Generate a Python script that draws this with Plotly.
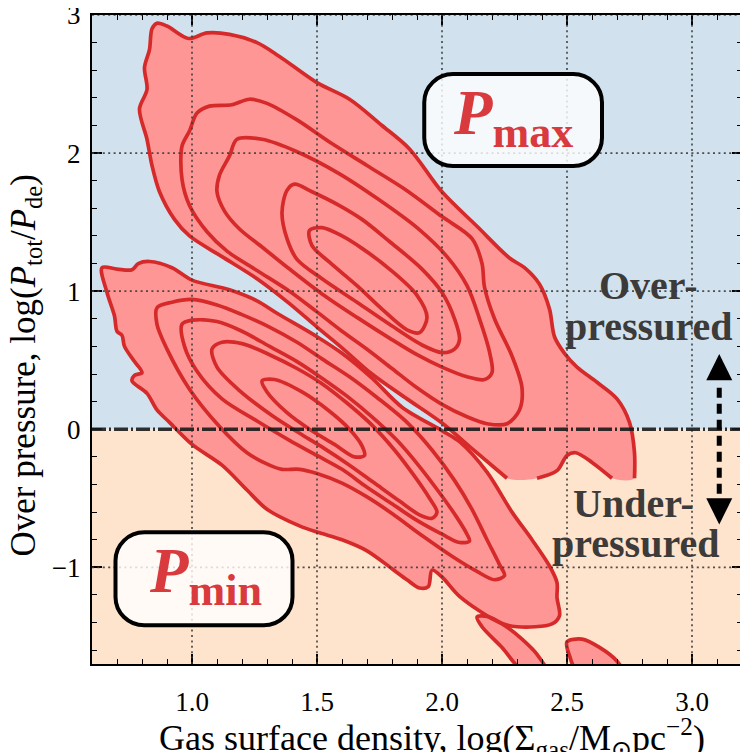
import plotly.graph_objects as go

# ---------------- data ----------------
X_TICKS = [1.0, 1.5, 2.0, 2.5, 3.0]
X_TICK_TEXT = ["1.0", "1.5", "2.0", "2.5", "3.0"]
Y_TICKS = [-1, 0, 1, 2, 3]
Y_TICK_TEXT = ["\u22121", "0", "1", "2", "3"]

# P_max distribution: outer level (closed, flat cut at the bottom)
PMAX_OUTER_EDGE = [(2.77, -0.355), (2.77, -0.17), (2.75, 0.05), (2.70, 0.22), (2.62, 0.34),
                   (2.54, 0.45), (2.49, 0.55), (2.45, 0.67), (2.43, 0.87), (2.39, 1.05),
                   (2.33, 1.17), (2.27, 1.24), (2.14, 1.47), (2.00, 1.72), (1.87, 2.03),
                   (1.76, 2.20), (1.63, 2.39), (1.50, 2.51), (1.35, 2.70), (1.26, 2.80),
                   (1.15, 2.86), (1.06, 2.87), (0.985, 2.83), (0.90, 2.92), (0.86, 2.94),
                   (0.84, 2.90), (0.83, 2.75), (0.81, 2.62), (0.82, 2.46), (0.79, 2.32),
                   (0.82, 2.10), (0.84, 1.91), (0.87, 1.72), (0.93, 1.52), (0.99, 1.40),
                   (1.12, 1.25), (1.26, 1.09), (1.39, 0.91), (1.50, 0.74), (1.60, 0.59),
                   (1.72, 0.40), (1.86, 0.22), (2.00, 0.045), (2.12, -0.14), (2.26, -0.355)]
PMAX_OUTER_NOTCH = [(2.38, -0.355), (2.46, -0.30), (2.50, -0.19), (2.535, -0.17),
                    (2.60, -0.24), (2.68, -0.355)]
PMAX_L2 = [(1.02, 2.29), (1.07, 2.34), (1.16, 2.35), (1.23, 2.39), (1.30, 2.36), (1.42, 2.24),
           (1.55, 2.08), (1.70, 1.91), (1.85, 1.74), (2.00, 1.54), (2.12, 1.38), (2.16, 1.20),
           (2.17, 1.03), (2.21, 0.80), (2.28, 0.53), (2.32, 0.30), (2.31, 0.14), (2.26, 0.04),
           (2.18, 0.04), (2.10, 0.09), (2.00, 0.18), (1.90, 0.30), (1.80, 0.44), (1.70, 0.58),
           (1.60, 0.71), (1.50, 0.85), (1.39, 1.00), (1.26, 1.15), (1.14, 1.29), (1.06, 1.43),
           (0.99, 1.62), (0.96, 1.81), (0.96, 2.05), (0.99, 2.16)]
PMAX_L3 = [(1.18, 2.10), (1.28, 2.10), (1.42, 2.01), (1.59, 1.85), (1.75, 1.66), (1.90, 1.46),
           (2.02, 1.25), (2.10, 1.04), (2.15, 0.80), (2.19, 0.56), (2.20, 0.41), (2.17, 0.36),
           (2.10, 0.38), (2.00, 0.45), (1.90, 0.54), (1.79, 0.66), (1.66, 0.81), (1.52, 0.98),
           (1.39, 1.16), (1.28, 1.32), (1.19, 1.45), (1.13, 1.58), (1.10, 1.72), (1.11, 1.84),
           (1.15, 1.98)]
PMAX_L4 = [(1.38, 1.73), (1.41, 1.775), (1.48, 1.72), (1.59, 1.62), (1.68, 1.52), (1.79, 1.36),
           (1.92, 1.16), (2.00, 0.99), (2.05, 0.80), (2.07, 0.65), (2.05, 0.58), (2.00, 0.555),
           (1.92, 0.61), (1.79, 0.76), (1.66, 0.92), (1.52, 1.09), (1.42, 1.23), (1.38, 1.38),
           (1.36, 1.57)]
PMAX_L5 = [(1.47, 1.44), (1.52, 1.46), (1.60, 1.40), (1.68, 1.31), (1.79, 1.16), (1.90, 0.97),
           (1.94, 0.81), (1.91, 0.70), (1.86, 0.72), (1.76, 0.87), (1.66, 1.04), (1.55, 1.21),
           (1.48, 1.33)]

# P_min distribution
PMIN_OUTER = [(0.64, 1.17), (0.70, 1.16), (0.76, 1.155), (0.785, 1.20), (0.83, 1.215),
              (0.92, 1.17), (1.00, 1.08), (1.15, 1.01), (1.26, 0.93), (1.34, 0.84),
              (1.50, 0.67), (1.60, 0.55), (1.72, 0.37), (1.84, 0.16), (2.00, -0.01),
              (2.07, -0.09), (2.18, -0.31), (2.28, -0.60), (2.36, -0.80), (2.43, -0.99),
              (2.46, -1.11), (2.46, -1.22), (2.47, -1.35), (2.44, -1.41), (2.30, -1.43),
              (2.23, -1.40), (2.07, -1.21), (2.00, -1.07), (1.96, -1.02), (1.945, -1.14),
              (1.91, -1.15), (1.86, -1.09), (1.80, -1.01), (1.70, -0.88), (1.60, -0.80),
              (1.51, -0.75), (1.43, -0.70), (1.30, -0.58), (1.22, -0.44), (1.12, -0.26),
              (1.00, -0.11), (0.91, 0.05), (0.86, 0.14), (0.82, 0.26), (0.76, 0.35),
              (0.77, 0.39), (0.80, 0.41), (0.77, 0.49), (0.73, 0.60), (0.72, 0.68),
              (0.70, 0.71), (0.69, 0.82), (0.66, 0.99)]
PMIN_L2 = [(0.86, 0.88), (0.92, 0.92), (1.00, 0.94), (1.10, 0.90), (1.20, 0.83), (1.31, 0.74),
           (1.42, 0.63), (1.52, 0.51), (1.63, 0.38), (1.74, 0.23), (1.86, 0.05), (1.96, -0.15),
           (2.05, -0.37), (2.12, -0.58), (2.18, -0.80), (2.23, -0.98), (2.25, -1.06),
           (2.21, -1.09), (2.14, -1.03), (2.04, -0.92), (1.92, -0.77), (1.80, -0.61),
           (1.70, -0.49), (1.60, -0.39), (1.50, -0.32), (1.43, -0.29), (1.36, -0.29),
           (1.31, -0.26), (1.22, -0.17), (1.11, 0.02), (0.99, 0.29), (0.90, 0.58), (0.86, 0.76)]
PMIN_L3 = [(0.96, 0.76), (1.00, 0.79), (1.10, 0.78), (1.20, 0.71), (1.31, 0.60), (1.42, 0.49),
           (1.52, 0.37), (1.62, 0.24), (1.72, 0.09), (1.82, -0.08), (1.91, -0.27),
           (1.99, -0.46), (2.06, -0.64), (2.10, -0.76), (2.11, -0.81), (2.07, -0.82),
           (2.00, -0.76), (1.90, -0.66), (1.80, -0.54), (1.70, -0.42), (1.60, -0.29),
           (1.50, -0.19), (1.39, -0.08), (1.26, 0.06), (1.12, 0.22), (1.02, 0.42), (0.97, 0.60)]
PMIN_L4 = [(1.08, 0.58), (1.12, 0.63), (1.20, 0.62), (1.31, 0.54), (1.42, 0.44), (1.52, 0.33),
           (1.62, 0.19), (1.72, 0.03), (1.81, -0.15), (1.89, -0.34), (1.95, -0.50),
           (1.98, -0.60), (1.96, -0.645), (1.91, -0.62), (1.83, -0.52), (1.73, -0.39),
           (1.63, -0.26), (1.53, -0.14), (1.44, -0.04), (1.32, 0.10), (1.19, 0.28), (1.10, 0.45)]
PMIN_L5 = [(1.28, 0.35), (1.33, 0.36), (1.44, 0.27), (1.55, 0.13), (1.63, 0.00), (1.68, -0.12),
           (1.69, -0.19), (1.65, -0.20), (1.57, -0.11), (1.47, 0.00), (1.38, 0.12), (1.30, 0.27)]
PMIN_ISLAND_A = [(2.14, -1.36), (2.18, -1.355), (2.25, -1.42), (2.32, -1.52), (2.38, -1.63),
                 (2.42, -1.76), (2.33, -1.76), (2.24, -1.58), (2.16, -1.43)]
PMIN_ISLAND_B = [(2.50, -1.54), (2.56, -1.52), (2.63, -1.58), (2.70, -1.68), (2.73, -1.78),
                 (2.55, -1.78), (2.51, -1.64)]

# ---------------- style ----------------
FILL = "#ff9696"
LINE = "#d62a2a"
LW = 3.7
BLUE = "#d1e2ee"
PEACH = "#fee3cd"
SERIF = "Liberation Serif"
XR = [0.6, 3.2]
YR = [-1.7, 3.0]

fig = go.Figure()


def xs(pts, close=False):
    v = [p[0] for p in pts]
    return v + [v[0]] if close else v


def ys(pts, close=False):
    v = [p[1] for p in pts]
    return v + [v[0]] if close else v


def add_fill(pts):
    fig.add_trace(go.Scatter(x=xs(pts, True), y=ys(pts, True), mode="lines", fill="toself",
                             fillcolor=FILL, line=dict(width=0, shape="spline", smoothing=0.9),
                             hoverinfo="skip", showlegend=False))


def add_line(pts, close=True):
    fig.add_trace(go.Scatter(x=xs(pts, close), y=ys(pts, close), mode="lines",
                             line=dict(color=LINE, width=LW, shape="spline", smoothing=0.9),
                             hoverinfo="skip", showlegend=False))


pmax_poly = PMAX_OUTER_EDGE + PMAX_OUTER_NOTCH
add_fill(pmax_poly)
add_fill(PMIN_OUTER)
add_fill(PMIN_ISLAND_A)
add_fill(PMIN_ISLAND_B)

add_line(PMAX_OUTER_EDGE, close=False)
add_line(PMAX_OUTER_NOTCH, close=False)
for loop in (PMAX_L2, PMAX_L3, PMAX_L4, PMAX_L5):
    add_line(loop)
for loop in (PMIN_OUTER, PMIN_L2, PMIN_L3, PMIN_L4, PMIN_L5, PMIN_ISLAND_A, PMIN_ISLAND_B):
    add_line(loop)

shapes = []
# background halves
shapes.append(dict(type="rect", xref="x domain", yref="y", x0=0, x1=1, y0=0, y1=YR[1],
                   fillcolor=BLUE, line=dict(width=0), layer="below"))
shapes.append(dict(type="rect", xref="x domain", yref="y", x0=0, x1=1, y0=YR[0], y1=0,
                   fillcolor=PEACH, line=dict(width=0), layer="below"))
# dotted grid on top of the contours
GRID = dict(color="rgba(60,60,60,0.9)", width=1.7, dash="2px,3.4px")
for xv in X_TICKS:
    shapes.append(dict(type="line", xref="x", yref="y domain", x0=xv, x1=xv, y0=0, y1=1,
                       line=GRID, layer="above"))
for yv in Y_TICKS:
    if yv != 0:
        shapes.append(dict(type="line", xref="x domain", yref="y", x0=0, x1=1, y0=yv, y1=yv,
                           line=GRID, layer="above"))
# zero line
shapes.append(dict(type="line", xref="x domain", yref="y", x0=0, x1=1, y0=0, y1=0,
                   line=dict(color="rgba(25,25,25,0.9)", width=3.4, dash="14px,3px,2px,3px"),
                   layer="above"))


def rounded_box(x0, x1, y0, y1, rx, ry):
    k = 0.5523
    p = (f"M {x0+rx},{y1} L {x1-rx},{y1} "
         f"C {x1-rx+k*rx},{y1} {x1},{y1-ry+k*ry} {x1},{y1-ry} "
         f"L {x1},{y0+ry} "
         f"C {x1},{y0+ry-k*ry} {x1-rx+k*rx},{y0} {x1-rx},{y0} "
         f"L {x0+rx},{y0} "
         f"C {x0+rx-k*rx},{y0} {x0},{y0+ry-k*ry} {x0},{y0+ry} "
         f"L {x0},{y1-ry} "
         f"C {x0},{y1-ry+k*ry} {x0+rx-k*rx},{y1} {x0+rx},{y1} Z")
    return dict(type="path", xref="x", yref="y", path=p, fillcolor="rgba(255,255,255,0.8)",
                line=dict(color="black", width=4), layer="above")


shapes.append(rounded_box(1.929, 2.640, 1.906, 2.572, 0.115, 0.205))
shapes.append(rounded_box(0.694, 1.402, -1.420, -0.746, 0.115, 0.205))

# double arrow (dashed stem + two heads)
AX = 3.109
shapes.append(dict(type="line", xref="x", yref="y", x0=AX, x1=AX, y0=0.30, y1=-0.50,
                   line=dict(color="black", width=5, dash="10px,6px"), layer="above"))
shapes.append(dict(type="path", xref="x", yref="y",
                   path=f"M {AX-0.052},{0.355} L {AX+0.052},{0.355} L {AX},{0.545} Z",
                   fillcolor="black", line=dict(width=0), layer="above"))
shapes.append(dict(type="path", xref="x", yref="y",
                   path=f"M {AX-0.052},{-0.50} L {AX+0.052},{-0.50} L {AX},{-0.69} Z",
                   fillcolor="black", line=dict(width=0), layer="above"))

TXT = dict(family=SERIF, size=40, color="#3d3a3a")
annotations = [
    dict(x=2.285, y=2.26, xref="x", yref="y", showarrow=False,
         text="<b><i>P</i></b><sub><b>max</b></sub>",
         font=dict(family=SERIF, size=63, color="#d93a3e")),
    dict(x=1.052, y=-1.06, xref="x", yref="y", showarrow=False,
         text="<b><i>P</i></b><sub><b>min</b></sub>",
         font=dict(family=SERIF, size=63, color="#d93a3e")),
    dict(x=2.824, y=1.04, xref="x", yref="y", showarrow=False, text="<b>Over-</b>", font=TXT),
    dict(x=2.824, y=0.745, xref="x", yref="y", showarrow=False, text="<b>pressured</b>", font=TXT),
    dict(x=2.765, y=-0.535, xref="x", yref="y", showarrow=False, text="<b>Under-</b>", font=TXT),
    dict(x=2.772, y=-0.83, xref="x", yref="y", showarrow=False, text="<b>pressured</b>", font=TXT),
    # axis titles
    dict(x=0.523, y=-0.114, xref="paper", yref="paper", showarrow=False, yanchor="middle",
         text="Gas surface density, log(\u03a3<sub>gas</sub>/M<sub>\u2299</sub>pc<sup>\u22122</sup>)",
         font=dict(family=SERIF, size=36, color="black")),
    dict(x=-0.103, y=0.46, xref="paper", yref="paper", showarrow=False, textangle=-90,
         xanchor="center", yanchor="middle",
         text="Over pressure, log(<i>P</i><sub>tot</sub>/<i>P</i><sub>de</sub>)",
         font=dict(family=SERIF, size=35, color="black")),
]

axis_common = dict(
    showgrid=False, zeroline=False, showline=True, linecolor="black", linewidth=2,
    mirror="allticks", ticks="inside", ticklen=10, tickwidth=1.6, tickcolor="black",
    tickfont=dict(family=SERIF, size=27, color="black"), automargin=False,
    ticklabeloverflow="allow",
)

# the page adds an 8px body margin, so the figure is 8px smaller than the window
fig.update_layout(
    width=740, height=744,
    margin=dict(l=84, r=6, t=7, b=88),
    paper_bgcolor="white", plot_bgcolor="white",
    shapes=shapes, annotations=annotations,
    xaxis=dict(range=XR, tickvals=X_TICKS, ticktext=X_TICK_TEXT, ticklabelstandoff=13,
               minor=dict(dtick=0.1, tick0=0, ticks="inside", ticklen=5, tickwidth=1.3,
                          tickcolor="black", showgrid=False),
               **axis_common),
    yaxis=dict(range=YR, tickvals=Y_TICKS, ticktext=Y_TICK_TEXT, ticklabelstandoff=4,
               minor=dict(dtick=0.2, tick0=0, ticks="inside", ticklen=5, tickwidth=1.3,
                          tickcolor="black", showgrid=False),
               **axis_common),
)

fig.write_html("out.html")
